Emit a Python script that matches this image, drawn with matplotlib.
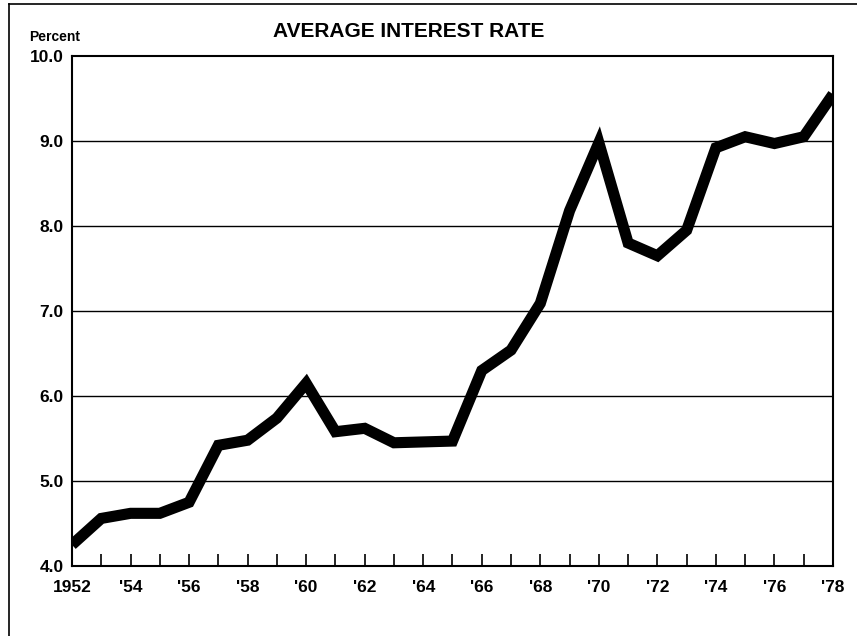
import matplotlib
matplotlib.use("Agg")
import matplotlib.pyplot as plt
from matplotlib.lines import Line2D

years = list(range(1952, 1979))
rates = [4.25, 4.56, 4.62, 4.62, 4.75, 5.42, 5.48, 5.74, 6.15, 5.58,
         5.62, 5.45, 5.46, 5.47, 6.30, 6.54, 7.09, 8.18, 8.98, 7.80,
         7.65, 7.95, 8.92, 9.05, 8.97, 9.05, 9.55]
y_ticks = [4.0, 5.0, 6.0, 7.0, 8.0, 9.0, 10.0]
x_labels = ["1952" if y == 1952 else ("'%02d" % (y % 100) if y % 2 == 0 else "")
            for y in years]

plt.rcParams['font.family'] = ['Liberation Sans', 'DejaVu Sans']

fig = plt.figure(figsize=(8.57, 6.36), dpi=100)
ax = fig.add_axes([0.084, 0.110, 0.888, 0.802])

ax.plot(years, rates, color='black', linewidth=8, solid_joinstyle='miter',
        solid_capstyle='butt', zorder=3)

ax.set_xlim(1952, 1978)
ax.set_ylim(4.0, 10.0)
ax.set_yticks(y_ticks)
ax.set_yticklabels(["%.1f" % v for v in y_ticks], fontsize=12.5, fontweight='bold')
ax.set_xticks(years)
ax.set_xticklabels(x_labels, fontsize=12.5, fontweight='bold')
ax.tick_params(axis='x', direction='in', length=9, width=1.2, pad=10)
ax.tick_params(axis='y', length=0, pad=6)
for v in y_ticks[1:-1]:
    ax.axhline(v, color='black', linewidth=1.0, zorder=1)
for s in ax.spines.values():
    s.set_linewidth(1.5)

fig.text(0.477, 0.950, "AVERAGE INTEREST RATE", fontsize=15, fontweight='bold',
         ha='center', va='center')
fig.text(0.034, 0.942, "Percent", fontsize=10, fontweight='bold',
         ha='left', va='center')

# frame around the figure (left and top edges visible)
fig.add_artist(Line2D([0.010, 0.010], [0.0, 0.993], transform=fig.transFigure,
                      color='black', linewidth=1.2))
fig.add_artist(Line2D([0.010, 1.0], [0.993, 0.993], transform=fig.transFigure,
                      color='black', linewidth=1.2))

plt.savefig("out.png", dpi=100)
